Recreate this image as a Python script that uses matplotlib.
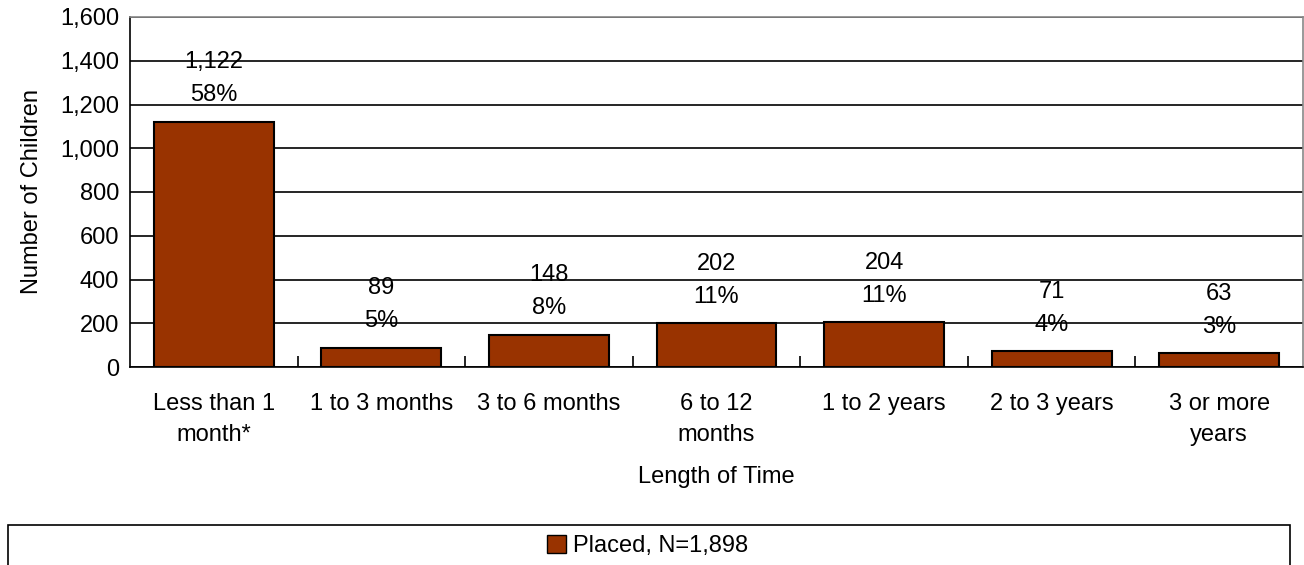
import matplotlib.pyplot as plt
from matplotlib.patches import Rectangle, Patch

plt.rcParams['font.family'] = ['Liberation Sans', 'DejaVu Sans']

categories = ["Less than 1\nmonth*", "1 to 3 months", "3 to 6 months", "6 to 12\nmonths",
              "1 to 2 years", "2 to 3 years", "3 or more\nyears"]
counts = [1122, 89, 148, 202, 204, 71, 63]
percents = ["58%", "5%", "8%", "11%", "11%", "4%", "3%"]
bar_color = "#993300"
fs = 17

fig = plt.figure(figsize=(13.04, 5.65), dpi=100)
ax = fig.add_axes([130 / 1304, 1 - 367 / 565, 1173 / 1304, 350 / 565])

x = list(range(len(categories)))
ax.bar(x, counts, width=0.715, color=bar_color, edgecolor="black", linewidth=1.5, zorder=3)

ax.set_ylim(0, 1600)
ax.set_xlim(-0.5, len(categories) - 0.5)
ax.set_yticks(range(0, 1601, 200))
ax.set_yticklabels([f"{v:,}" for v in range(0, 1601, 200)], fontsize=fs)
ax.yaxis.grid(True, color="black", linewidth=1.2, zorder=1)
ax.tick_params(axis="y", length=0, pad=8)

# category boundary ticks pointing into the plot
ax.set_xticks([i + 0.5 for i in x[:-1]])
ax.set_xticklabels([])
ax.tick_params(axis="x", direction="in", length=8, width=1.2, color="black")
for i, lab in enumerate(categories):
    ax.text(i, -120, lab, ha="center", va="top", fontsize=fs, linespacing=1.5)

for s in ax.spines.values():
    s.set_linewidth(1.2)
ax.spines["top"].set_color("#888888")
ax.spines["right"].set_color("#888888")

for i, (c, p) in enumerate(zip(counts, percents)):
    ax.text(i, c + 195, f"{c:,}\n{p}", ha="center", va="center",
            fontsize=fs, linespacing=1.65, zorder=4)

ax.set_ylabel("Number of Children", fontsize=fs, labelpad=12)
fig.text((130 + 1303) / 2 / 1304, 1 - 477 / 565, "Length of Time", ha="center", va="center", fontsize=fs)

# legend box
fig.patches.append(Rectangle((8 / 1304, -0.01), 1282 / 1304, (565 - 525) / 565 + 0.01,
                             transform=fig.transFigure, fill=False, edgecolor="black",
                             linewidth=1.2))
fig.legend(handles=[Patch(facecolor=bar_color, edgecolor="black", label="Placed, N=1,898")],
           loc="center", bbox_to_anchor=(648 / 1304, 1 - 546 / 565), frameon=False,
           fontsize=fs, handlelength=0.8, handleheight=0.8, handletextpad=0.3)

fig.savefig("out.png", dpi=100)
